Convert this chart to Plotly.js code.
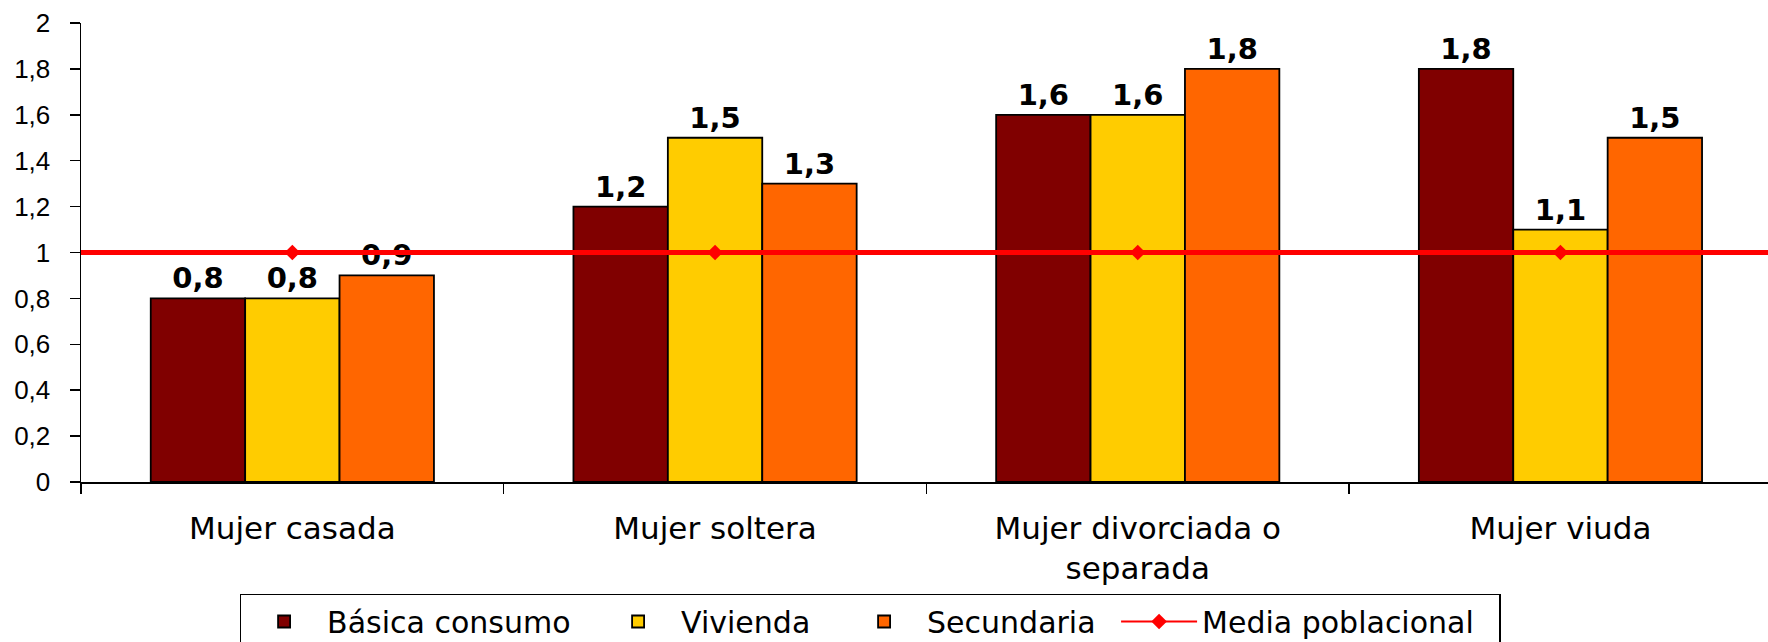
<!DOCTYPE html>
<html>
<head>
<meta charset="utf-8">
<script src="https://cdn.plot.ly/plotly-3.0.1.min.js"></script>
<style>
  html, body { margin: 0; padding: 0; background: #ffffff; }
  #chart { width: 1768px; height: 642px; }
</style>
</head>
<body>
<div id="chart"></div>
<script>
// ---- data ----
const categories = ["Mujer casada", "Mujer soltera", "Mujer divorciada o<br>separada", "Mujer viuda"];
const basicaConsumo = [0.8, 1.2, 1.6, 1.8];
const vivienda = [0.8, 1.5, 1.6, 1.1];
const secundaria = [0.9, 1.3, 1.8, 1.5];
const mediaPoblacional = [1, 1, 1, 1];
const seriesNames = ["Básica consumo", "Vivienda", "Secundaria", "Media poblacional"];
const yTickValues = [0, 0.2, 0.4, 0.6, 0.8, 1, 1.2, 1.4, 1.6, 1.8, 2];

// ---- styles ----
const colors = ["#800000", "#FFCC00", "#FF6600"];
const legendEntryWidths = [263, 155, 184, 292];
const labelFont = { family: "DejaVu Sans", size: 29, color: "#000000", weight: "bold" };

function barTrace(name, values, color, lw) {
  return {
    type: "bar",
    name: name,
    x: categories,
    y: values,
    marker: { color: color, line: { color: "#000000", width: 1.8 } },
    texttemplate: "<b>%{y:.1f}</b>",
    textposition: "outside",
    textfont: labelFont,
    cliponaxis: false,
    legendwidth: lw,
    hoverinfo: "skip"
  };
}

const traces = [
  barTrace(seriesNames[0], basicaConsumo, colors[0], legendEntryWidths[0]),
  barTrace(seriesNames[1], vivienda, colors[1], legendEntryWidths[1]),
  barTrace(seriesNames[2], secundaria, colors[2], legendEntryWidths[2]),
  {
    type: "scatter",
    mode: "lines+markers",
    name: seriesNames[3],
    x: categories,
    y: mediaPoblacional,
    line: { color: "#FF0000", width: 2 },
    marker: { symbol: "diamond", size: 12, color: "#FF0000" },
    cliponaxis: false,
    legendwidth: legendEntryWidths[3],
    hoverinfo: "skip"
  }
];

const catWidthPx = 422.7;
const plotWidthPx = 1768 - 81;
const xMax = -0.5 + plotWidthPx / catWidthPx;

const layout = {
  width: 1768,
  height: 642,
  paper_bgcolor: "#ffffff",
  plot_bgcolor: "#ffffff",
  separators: ",.",
  margin: { l: 81, r: 0, t: 23, b: 160, pad: 0, autoexpand: false },
  barmode: "group",
  bargap: 0.33,
  bargroupgap: 0,
  showlegend: true,
  xaxis: {
    type: "category",
    range: [-0.5, xMax],
    showgrid: false,
    zeroline: false,
    showline: true,
    linecolor: "#000000",
    linewidth: 1.5,
    ticks: "outside",
    tickson: "boundaries",
    ticklen: 10,
    tickwidth: 1.5,
    tickcolor: "#000000",
    tickfont: { family: "DejaVu Sans", size: 31, color: "#000000" },
    ticklabelstandoff: 18,
    fixedrange: true,
    automargin: false
  },
  xaxis2: {
    overlaying: "x",
    anchor: "y",
    type: "linear",
    range: [-0.5, xMax],
    tickvals: [-0.5, 0.5, 1.5, 2.5],
    showticklabels: false,
    showgrid: false,
    zeroline: false,
    showline: false,
    ticks: "inside",
    ticklen: 10,
    tickwidth: 1.5,
    tickcolor: "#000000"
  },
  yaxis: {
    range: [0, 2],
    tickvals: yTickValues,
    showgrid: false,
    zeroline: false,
    showline: true,
    linecolor: "#000000",
    linewidth: 1.5,
    ticks: "outside",
    ticklen: 10,
    tickwidth: 1.5,
    tickcolor: "#000000",
    tickfont: { family: "Liberation Sans", size: 26, color: "#000000" },
    ticklabelstandoff: 14,
    fixedrange: true,
    automargin: false
  },
  yaxis2: {
    overlaying: "y",
    anchor: "x",
    side: "left",
    range: [0, 2],
    tickvals: yTickValues,
    showticklabels: false,
    showgrid: false,
    zeroline: false,
    showline: false,
    ticks: "inside",
    ticklen: 10,
    tickwidth: 1.5,
    tickcolor: "#000000"
  },
  shapes: [
    {
      type: "line",
      xref: "paper",
      yref: "y",
      x0: 0,
      x1: 1,
      y0: mediaPoblacional[0],
      y1: mediaPoblacional[0],
      line: { color: "#FF0000", width: 5 },
      layer: "above"
    }
  ],
  legend: {
    orientation: "h",
    x: 0.094,
    xanchor: "left",
    y: -0.244,
    yanchor: "top",
    bordercolor: "#000000",
    borderwidth: 1.5,
    bgcolor: "#ffffff",
    font: { family: "DejaVu Sans", size: 30, color: "#000000" },
    itemwidth: 76,
    traceorder: "normal",
    itemclick: false,
    itemdoubleclick: false
  }
};

Plotly.newPlot("chart", traces, layout, { displayModeBar: false, staticPlot: true });
</script>
</body>
</html>
